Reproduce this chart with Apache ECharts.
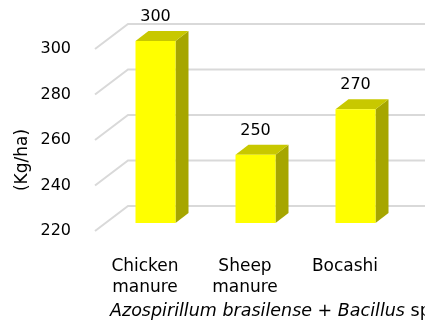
<!doctype html>
<html>
	<head>
		<meta charset="UTF-8">
		<title></title>
		<script src="https://cdn.jsdelivr.net/npm/echarts@6/dist/echarts.min.js"></script>
		<style type="text/css">
			html, body {
				margin: 0;
				padding: 0;
				background: #fff;
			}
			#chart {
				width: 425px;
				height: 327px;
			}
		</style>
	</head>
	<body>
		<div id="chart"></div>
		<script type="text/javascript">
			// data
			var categories = ['Chicken\nmanure', 'Sheep\nmanure', 'Bocashi'];
			var values = [300, 250, 270];
			var yTicks = [220, 240, 260, 280, 300];

			var FONT = 'DejaVu Sans';
			// 3d look: wall depth and bar depth (pixels)
			var wallDx = 33, wallDy = -25;
			var barFrontDx = 10.5, barFrontDy = -8;
			var barDx = 13, barDy = -10;
			var barW = 40;

			var chart = echarts.init(document.getElementById('chart'));

			var gridData = yTicks.map(function (v) { return [0, v]; });
			var barData = values.map(function (v, i) { return [i, v]; });

			//背景网格线（斜线+水平线）
			function renderGrid(params, api) {
				var cs = params.coordSys;
				var y = api.coord([0, api.value(1)])[1];
				var x0 = cs.x;
				return {
					type: 'polyline',
					shape: {
						points: [[x0, y], [x0 + wallDx, y + wallDy], [x0 + cs.width + wallDx + 40, y + wallDy]]
					},
					style: { fill: null, stroke: '#d9d9d9', lineWidth: 2 }
				};
			}

			//立体柱子
			function renderBar(params, api) {
				var top = api.coord([api.value(0), api.value(1)]);
				var base = api.coord([api.value(0), 220]);
				var x = top[0] - barW / 2 + barFrontDx;
				var yt = top[1] + barFrontDy;
				var yb = base[1] + barFrontDy;
				return {
					type: 'group',
					children: [
						{
							type: 'polygon',
							shape: { points: [[x + barW, yt], [x + barW + barDx, yt + barDy], [x + barW + barDx, yb + barDy], [x + barW, yb]] },
							style: { fill: '#a6a600' }
						},
						{
							type: 'polygon',
							shape: { points: [[x, yt], [x + barDx, yt + barDy], [x + barW + barDx, yt + barDy], [x + barW, yt]] },
							style: { fill: '#c8c800' }
						},
						{
							type: 'rect',
							shape: { x: x, y: yt, width: barW, height: yb - yt },
							style: { fill: '#ffff00' }
						},
						{
							type: 'text',
							x: x + barW / 2,
							y: yt - 24,
							style: {
								text: String(api.value(1)),
								font: '16px "' + FONT + '"',
								fill: '#000',
								align: 'center',
								verticalAlign: 'middle'
							}
						}
					]
				};
			}

			var option = {
				animation: false,
				grid: { left: 95, width: 300, top: 49, bottom: 96 },
				xAxis: {
					type: 'category',
					data: categories,
					axisLine: { show: false },
					axisTick: { show: false },
					splitLine: { show: false },
					axisLabel: {
						margin: 25,
						fontFamily: FONT,
						fontSize: 17,
						lineHeight: 21,
						color: '#000'
					}
				},
				yAxis: {
					type: 'value',
					min: 220,
					max: 300,
					interval: 20,
					axisLine: { show: false },
					axisTick: { show: false },
					splitLine: { show: false },
					axisLabel: {
						margin: 24,
						fontFamily: FONT,
						fontSize: 16,
						color: '#000'
					}
				},
				graphic: [
					{
						type: 'text',
						x: 23,
						y: 160,
						rotation: Math.PI / 2,
						style: {
							text: '(Kg/ha)',
							font: '17px "' + FONT + '"',
							fill: '#000',
							align: 'center',
							verticalAlign: 'middle'
						}
					},
					{
						type: 'text',
						left: 110,
						top: 302,
						style: {
							text: '{i|Azospirillum brasilense} + {i|Bacillus} sp.',
							font: '17.5px "' + FONT + '"',
							fill: '#000',
							rich: {
								i: { fontStyle: 'italic', fontFamily: FONT, fontSize: 17.5 }
							}
						}
					}
				],
				series: [
					{
						type: 'custom',
						renderItem: renderGrid,
						data: gridData,
						silent: true,
						z: 1
					},
					{
						type: 'custom',
						renderItem: renderBar,
						data: barData,
						z: 2
					}
				]
			};
			chart.setOption(option);
		</script>
	</body>
</html>
